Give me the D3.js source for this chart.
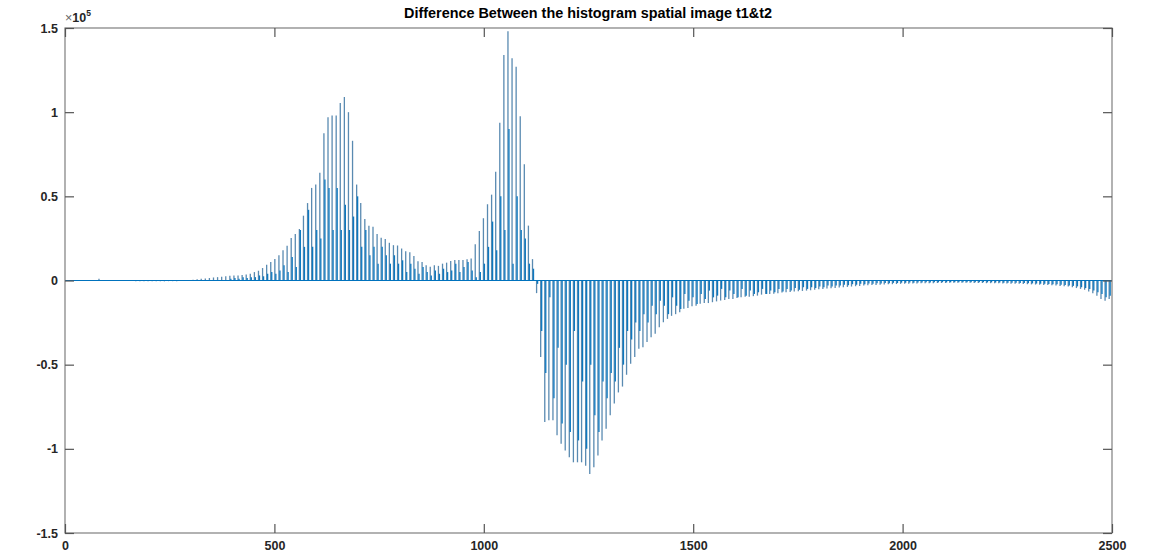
<!DOCTYPE html>
<html><head><meta charset="utf-8">
<script src="https://cdn.jsdelivr.net/npm/d3@7"></script>
<style>body{margin:0;background:#fff}svg{display:block}</style>
</head><body><svg id="c" width="1156" height="555"></svg>
<script>
// histogram bins: 256 levels spread over 0..2500
const binCount = 256;
const binWidth = 2500 / 256;
const binOffset = 3;
// main (tall) bar per bin, in units of 1e5
const mainValues = [
0,0,0,0,0,0,0,0,0.01,0,
0,0,0,0,0,0,0,-0.004,-0.004,-0.004,
-0.004,-0.005,-0.005,-0.005,-0.005,-0.004,-0.004,-0.004,-0.003,-0.003,
0.003,0.005,0.008,0.01,0.012,0.015,0.018,0.02,0.022,0.025,
0.028,0.03,0.03,0.032,0.035,0.04,0.05,0.058,0.074,0.094,
0.11,0.128,0.15,0.18,0.206,0.252,0.276,0.306,0.385,0.46,
0.55,0.57,0.64,0.875,0.97,0.98,0.98,1.055,1.09,1.0,
0.83,0.57,0.46,0.365,0.325,0.32,0.276,0.254,0.246,0.224,
0.21,0.208,0.19,0.174,0.168,0.145,0.115,0.11,0.09,0.082,
0.09,0.087,0.1,0.106,0.116,0.122,0.122,0.122,0.126,0.13,
0.215,0.294,0.37,0.453,0.51,0.646,0.937,1.34,1.48,1.32,
1.27,0.976,0.69,0.326,0.127,-0.075,-0.455,-0.84,-0.83,-0.83,
-0.92,-0.97,-1.01,-1.05,-1.08,-1.08,-1.08,-1.10,-1.15,-1.11,
-1.04,-0.95,-0.88,-0.80,-0.73,-0.665,-0.63,-0.56,-0.495,-0.455,
-0.406,-0.396,-0.366,-0.337,-0.317,-0.277,-0.248,-0.228,-0.21,-0.2,
-0.188,-0.168,-0.164,-0.153,-0.15,-0.138,-0.134,-0.134,-0.129,-0.124,
-0.119,-0.116,-0.11,-0.11,-0.104,-0.1,-0.096,-0.096,-0.093,-0.09,
-0.084,-0.08,-0.08,-0.078,-0.075,-0.072,-0.07,-0.068,-0.066,-0.064,
-0.062,-0.06,-0.058,-0.055,-0.052,-0.05,-0.048,-0.046,-0.044,-0.042,
-0.04,-0.038,-0.036,-0.034,-0.032,-0.03,-0.028,-0.027,-0.026,-0.025,
-0.024,-0.023,-0.022,-0.021,-0.02,-0.02,-0.019,-0.018,-0.018,-0.017,
-0.017,-0.016,-0.016,-0.015,-0.015,-0.015,-0.014,-0.014,-0.014,-0.014,
-0.014,-0.014,-0.015,-0.015,-0.015,-0.016,-0.016,-0.017,-0.017,-0.018,
-0.018,-0.019,-0.02,-0.02,-0.021,-0.022,-0.023,-0.024,-0.025,-0.026,
-0.027,-0.028,-0.03,-0.032,-0.034,-0.036,-0.04,-0.045,-0.05,-0.055,
-0.065,-0.075,-0.09,-0.11,-0.12,-0.11
];
// secondary (shorter) bar beside each bin, starting at bin 40, units of 1e5
const secondaryFirstBin = 40;
const secondaryValues = [
0.01,0.015,0.01,0.02,0.015,0.02,0.02,0.03,0.025,0.04,
0.05,0.04,0.06,0.09,0.05,0.14,0.08,0.3,0.2,0.42,
0.2,0.3,0.25,0.6,0.55,0.3,0.55,0.3,0.45,0.3,
0.38,0.5,0.2,0.3,0.15,0.2,0.1,0.2,0.15,0.1,
0.15,0.1,0.12,0.05,0.1,0.07,0.04,0.08,0.05,0.03,
0.06,0.04,0.07,0.05,0.06,0.1,0.05,0.08,0.11,0.06,
0.02,0.05,0.1,0.2,0.35,0.18,0.5,0.3,0.9,0.1,
0.5,0.3,0.25,0.1,0.07,-0.02,-0.3,-0.55,-0.1,-0.7,
-0.4,-0.85,-0.5,-0.9,-0.3,-0.95,-0.6,-1.0,-0.5,-0.8,
-0.9,-0.6,-0.7,-0.55,-0.6,-0.4,-0.5,-0.3,-0.35,-0.25,
-0.3,-0.2,-0.25,-0.15,-0.2,-0.12,-0.15,-0.2,-0.1,-0.15,
-0.17,-0.08,-0.12,-0.1,-0.14,-0.08,-0.11,-0.06,-0.1,-0.09,
-0.05,-0.1,-0.06,-0.08,-0.1,-0.05,-0.09,-0.06,-0.08,-0.07,-0.05,-0.08,
-0.06,-0.07,-0.05,-0.065,-0.05,-0.06,-0.045,-0.055,-0.04,-0.05,
-0.04,-0.045,-0.035,-0.04,-0.03,-0.035,-0.03,-0.03,-0.025,-0.028,
-0.022,-0.025,-0.02,-0.022,-0.018,-0.02,-0.016,-0.018,-0.015,-0.016,
-0.014,-0.015,-0.013,-0.014,-0.012,-0.013,-0.012,-0.012,-0.011,-0.012,
-0.011,-0.011,-0.01,-0.011,-0.01,-0.01,-0.01,-0.01,-0.01,-0.01,
-0.01,-0.011,-0.01,-0.011,-0.011,-0.012,-0.012,-0.013,-0.013,-0.014,
-0.014,-0.015,-0.015,-0.016,-0.017,-0.018,-0.019,-0.02,-0.021,-0.022,
-0.023,-0.025,-0.027,-0.03,-0.032,-0.035,-0.04,-0.045,-0.05,-0.06,
-0.07,-0.08,-0.1,-0.09
];
const xTicks = [0, 500, 1000, 1500, 2000, 2500];
const yTicks = [-1.5, -1, -0.5, 0, 0.5, 1, 1.5];
const yTickLabels = ["-1.5", "-1", "-0.5", "0", "0.5", "1", "1.5"];
const titleText = "Difference Between the histogram spatial image t1&t2";

const svg = d3.select("#c");
const L = 65, R = 1112, T = 28, B = 533;
const x = d3.scaleLinear().domain([0, 2500]).range([L, R]);
const y = d3.scaleLinear().domain([-1.5, 1.5]).range([B, T]);
const barColor = "#0072BD";
const font = "'Liberation Sans', Arial, Helvetica, sans-serif";

// bars
const mainData = mainValues.map((v, i) => ({pos: binOffset + i * binWidth, v}));
const secData = secondaryValues.map((v, i) => ({pos: binOffset + (i + secondaryFirstBin) * binWidth + 2.4, v}));
const gBars = svg.append("g");
gBars.selectAll("line.m").data(mainData).join("line").attr("class", "m")
  .attr("x1", d => x(d.pos)).attr("x2", d => x(d.pos))
  .attr("y1", y(0)).attr("y2", d => y(d.v))
  .attr("stroke", "#2f6d9e").attr("stroke-width", 1.3).attr("stroke-opacity", 0.8);
gBars.selectAll("line.s").data(secData).join("line").attr("class", "s")
  .attr("x1", d => x(d.pos)).attr("x2", d => x(d.pos))
  .attr("y1", y(0)).attr("y2", d => y(d.v))
  .attr("stroke", barColor).attr("stroke-width", 1.3).attr("stroke-opacity", 0.95);

// baseline
svg.append("line").attr("x1", L).attr("x2", R).attr("y1", y(0)).attr("y2", y(0))
  .attr("stroke", barColor).attr("stroke-width", 1.2);

// box
svg.append("rect").attr("x", L).attr("y", T).attr("width", R - L).attr("height", B - T)
  .attr("fill", "none").attr("stroke", "#7f7f7f").attr("stroke-width", 1.2);

// axes with inward ticks on all sides
const tickLen = 9;
const axB = d3.axisBottom(x).tickValues(xTicks).tickSize(-tickLen).tickPadding(8).tickFormat(d3.format("d"));
const axT = d3.axisTop(x).tickValues(xTicks).tickSize(-tickLen).tickFormat("");
const axL = d3.axisLeft(y).tickValues(yTicks).tickSize(-tickLen).tickPadding(7).tickFormat((d, i) => yTickLabels[i]);
const axR = d3.axisRight(y).tickValues(yTicks).tickSize(-tickLen).tickFormat("");
function styleAxis(g) {
  g.select(".domain").remove();
  g.selectAll(".tick line").attr("stroke", "#555").attr("stroke-width", 1.2);
  g.selectAll(".tick text").attr("fill", "#262626").style("font-family", font)
    .style("font-size", "12.5px").style("font-weight", "bold");
}
svg.append("g").attr("transform", `translate(0,${B})`).call(axB).call(styleAxis);
svg.append("g").attr("transform", `translate(0,${T})`).call(axT).call(styleAxis);
svg.append("g").attr("transform", `translate(${L},0)`).call(axL).call(styleAxis);
svg.append("g").attr("transform", `translate(${R},0)`).call(axR).call(styleAxis);

// exponent label
const ex = svg.append("text").attr("x", L).attr("y", 22)
  .style("font-family", font).style("font-size", "12.5px").attr("fill", "#262626");
ex.append("tspan").text("×").style("font-weight", "normal").attr("fill", "#666");
ex.append("tspan").text("10").style("font-weight", "bold");
ex.append("tspan").text("5").attr("dy", -6).style("font-size", "8.5px").style("font-weight", "bold");

// title
svg.append("text").attr("x", 588).attr("y", 18).attr("text-anchor", "middle")
  .style("font-family", font).style("font-size", "14.4px").style("font-weight", "bold")
  .attr("fill", "#000").text(titleText);
</script></body></html>
